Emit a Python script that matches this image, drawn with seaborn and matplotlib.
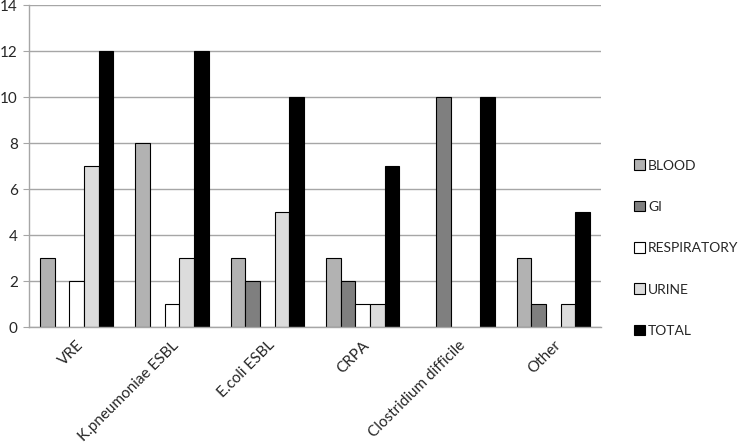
import pandas as pd
import numpy as np
import matplotlib.pyplot as plt
import seaborn as sns

categories = ["VRE", "K.pneumoniae ESBL", "E.coli ESBL", "CRPA", "Clostridium difficile", "Other"]
series = ["BLOOD", "GI", "RESPIRATORY", "URINE", "TOTAL"]
blood = [3, 8, 3, 3, 0, 3]
gi = [0, 0, 2, 2, 10, 1]
respiratory = [2, 1, 0, 1, 0, 0]
urine = [7, 3, 5, 1, 0, 1]
total = [12, 12, 10, 7, 10, 5]

colors = ["#b2b2b2", "#7f7f7f", "#ffffff", "#dcdcdc", "#000000"]

rows = []
for name, vals in zip(series, [blood, gi, respiratory, urine, total]):
    for cat, v in zip(categories, vals):
        rows.append({"category": cat, "series": name, "count": v})
df = pd.DataFrame(rows)
df = df[df["count"] > 0]

sns.set_style("white")
plt.rcParams["font.family"] = ["Lato", "DejaVu Sans"]

fig = plt.figure(figsize=(7.42, 4.44), dpi=100)
ax = fig.add_axes([0.039, 0.2635, 0.771, 0.725])

sns.barplot(data=df, x="category", y="count", hue="series",
            order=categories, hue_order=series, palette=colors,
            width=0.77, edgecolor="black", linewidth=0.8, ax=ax)

ax.set_ylim(0, 14)
ax.set_yticks(np.arange(0, 15, 2))
ax.set_xlim(-0.5, len(categories) - 0.5)
ax.yaxis.grid(True, color="#a6a6a6", linewidth=1)
ax.set_axisbelow(True)
ax.set_xlabel("")
ax.set_ylabel("")

for s in ["top", "right"]:
    ax.spines[s].set_visible(False)
for s in ["left", "bottom"]:
    ax.spines[s].set_color("#a6a6a6")
    ax.spines[s].set_linewidth(1)

ax.set_xticks(range(len(categories)))
ax.set_xticklabels(categories, rotation=45, ha="right", rotation_mode="anchor", fontsize=11)
ax.tick_params(axis="x", which="major", length=0, pad=8)
ax.set_xticks(np.arange(-0.5, len(categories), 1), minor=True)
ax.tick_params(axis="x", which="minor", length=5, color="#a6a6a6", direction="out")
ax.tick_params(axis="y", length=4, color="#a6a6a6", labelsize=11, pad=4, left=True)

handles, labels = ax.get_legend_handles_labels()
ax.legend(handles, labels, loc="center left", bbox_to_anchor=(1.035, 0.245),
          frameon=False, fontsize=10, labelspacing=2.1, handlelength=0.8,
          handleheight=0.8, handletextpad=0.25)

fig.savefig("out.png", dpi=100)
